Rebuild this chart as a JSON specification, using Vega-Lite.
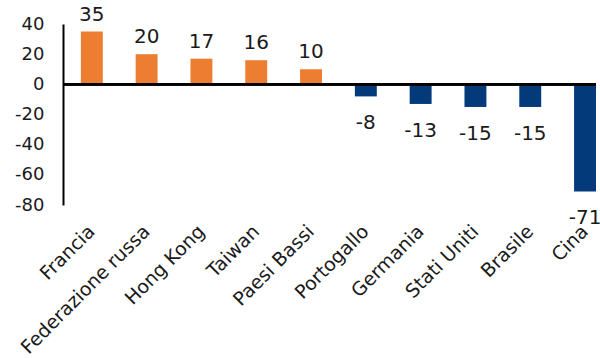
{
  "$schema": "https://vega.github.io/schema/vega-lite/v6.json",
  "autosize": "none",
  "width": 533,
  "height": 181,
  "padding": {"left": 63, "top": 24, "right": 4, "bottom": 153},
  "background": "white",
  "config": {
    "view": {"stroke": null},
    "font": "DejaVu Sans",
    "axis": {"labelColor": "#1a1a1a", "labelFont": "DejaVu Sans"}
  },
  "data": {
    "values": [
      {"paese": "Francia", "v": 35},
      {"paese": "Federazione russa", "v": 20},
      {"paese": "Hong Kong", "v": 17},
      {"paese": "Taiwan", "v": 16},
      {"paese": "Paesi Bassi", "v": 10},
      {"paese": "Portogallo", "v": -8},
      {"paese": "Germania", "v": -13},
      {"paese": "Stati Uniti", "v": -15},
      {"paese": "Brasile", "v": -15},
      {"paese": "Cina", "v": -71}
    ]
  },
  "encoding": {
    "x": {
      "field": "paese",
      "type": "nominal",
      "sort": null,
      "title": null,
      "scale": {"paddingInner": 0.6, "paddingOuter": 0.163, "align": 1},
      "axis": {
        "domain": false,
        "ticks": false,
        "labelAngle": -45,
        "labelAlign": "right",
        "labelBaseline": "middle",
        "labelFontSize": 19,
        "labelPadding": 23,
        "labelLimit": 300,
        "labelOverlap": false
      }
    },
    "y": {
      "field": "v",
      "type": "quantitative",
      "title": null,
      "scale": {"domain": [-80, 40], "nice": false},
      "axis": {
        "values": [-80, -60, -40, -20, 0, 20, 40],
        "labelExpr": "replace(datum.label, '\u2212', '-')",
        "labelOverlap": false,
        "grid": false,
        "ticks": false,
        "domainColor": "#000000",
        "domainWidth": 2,
        "labelFontSize": 18,
        "labelPadding": 19
      }
    }
  },
  "layer": [
    {
      "mark": {"type": "bar"},
      "encoding": {
        "color": {
          "condition": {"test": "datum.v > 0", "value": "#ED7D31"},
          "value": "#033A7A"
        }
      }
    },
    {
      "mark": {"type": "rule", "color": "#000000", "strokeWidth": 2},
      "encoding": {"y": {"datum": 0, "type": "quantitative"}, "x": null}
    },
    {
      "transform": [{"filter": "datum.v > 0"}],
      "mark": {"type": "text", "baseline": "alphabetic", "dy": -11, "fontSize": 20, "color": "#1a1a1a"},
      "encoding": {
        "text": {"field": "v", "type": "nominal"}
      }
    },
    {
      "transform": [{"filter": "datum.v < 0"}],
      "mark": {"type": "text", "baseline": "top", "dy": 17, "fontSize": 20, "color": "#1a1a1a"},
      "encoding": {
        "text": {"field": "v", "type": "nominal"}
      }
    }
  ]
}
